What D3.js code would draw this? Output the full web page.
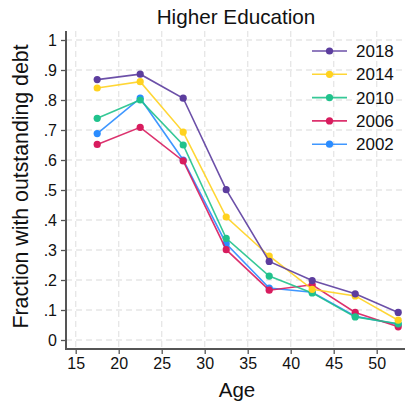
<!DOCTYPE html>
<html>
<head>
<meta charset="utf-8">
<script src="https://cdn.jsdelivr.net/npm/d3@7"></script>
<style>
  html, body { margin: 0; padding: 0; background: #fff; }
  svg { display: block; font-family: "Liberation Sans", Arial, Helvetica, sans-serif; }
</style>
</head>
<body>
<svg id="chart" width="405" height="403"></svg>
<script>
// Age-group midpoints
const ages = [17.5, 22.5, 27.5, 32.5, 37.5, 42.5, 47.5, 52.5];

// Share of households with outstanding higher-education debt, by survey year
const y2018 = [0.868, 0.886, 0.806, 0.501, 0.262, 0.198, 0.154, 0.092];
const y2014 = [0.840, 0.861, 0.693, 0.410, 0.280, 0.169, 0.147, 0.066];
const y2010 = [0.739, 0.800, 0.650, 0.339, 0.213, 0.157, 0.077, 0.054];
const y2006 = [0.652, 0.709, 0.597, 0.301, 0.166, 0.184, 0.092, 0.044];
const y2002 = [0.688, 0.806, 0.600, 0.321, 0.173, 0.159, 0.079, 0.052];

const seriesNames = ["2018", "2014", "2010", "2006", "2002"];
const seriesColors = ["#5c3d9e", "#ffd21f", "#20c28c", "#d81c5e", "#2a8cff"];
const seriesValues = [y2018, y2014, y2010, y2006, y2002];

const xTicks = [15, 20, 25, 30, 35, 40, 45, 50];
const yTicks = [0, 0.1, 0.2, 0.3, 0.4, 0.5, 0.6, 0.7, 0.8, 0.9, 1];
const yTickLabels = ["0", ".1", ".2", ".3", ".4", ".5", ".6", ".7", ".8", ".9", "1"];

const svg = d3.select("#chart");

// Plot frame
const frame = { left: 66, right: 405, top: 31, bottom: 349 };

const x = d3.scaleLinear().domain([15, 50]).range([75.7, 376.7]);
const y = d3.scaleLinear().domain([0, 1]).range([340, 40]);

// Dashed grid
const grid = svg.append("g").attr("stroke", "#e6e6e6").attr("stroke-width", 1.3)
  .attr("stroke-dasharray", "6,4");
grid.selectAll("line.h").data(yTicks).join("line")
  .attr("x1", frame.left).attr("x2", frame.right)
  .attr("y1", d => y(d)).attr("y2", d => y(d));
grid.selectAll("line.v").data(xTicks).join("line")
  .attr("x1", d => x(d)).attr("x2", d => x(d))
  .attr("y1", frame.top).attr("y2", frame.bottom);

// Axes
const axisColor = "#555";
const yAxis = d3.axisLeft(y).tickValues(yTicks)
  .tickFormat((d, i) => yTickLabels[i]).tickSize(5).tickPadding(4);
const gy = svg.append("g").attr("transform", `translate(${frame.left},0)`).call(yAxis);
const xAxis = d3.axisBottom(x).tickValues(xTicks).tickSize(5).tickPadding(4);
const gx = svg.append("g").attr("transform", `translate(0,${frame.bottom})`).call(xAxis);

[gy, gx].forEach(g => {
  g.select(".domain").remove();
  g.selectAll(".tick line").attr("stroke", axisColor).attr("stroke-width", 1.3);
  g.selectAll(".tick text").attr("fill", "#111").style("font-size", "16px")
    .style("font-family", "Liberation Sans, Arial, sans-serif");
});

svg.append("line").attr("x1", frame.left).attr("x2", frame.left)
  .attr("y1", frame.top).attr("y2", frame.bottom + 1)
  .attr("stroke", axisColor).attr("stroke-width", 2);
svg.append("line").attr("x1", frame.left - 1).attr("x2", frame.right)
  .attr("y1", frame.bottom).attr("y2", frame.bottom)
  .attr("stroke", axisColor).attr("stroke-width", 2);

// Series (oldest drawn first so recent years sit on top)
const line = d3.line().x((d, i) => x(ages[i])).y(d => y(d));
const order = d3.range(seriesNames.length).reverse();
order.forEach(k => {
  const g = svg.append("g");
  g.append("path").datum(seriesValues[k])
    .attr("fill", "none").attr("stroke", seriesColors[k])
    .attr("stroke-width", 1.6).attr("stroke-opacity", 0.9)
    .attr("d", line);
  g.selectAll("circle").data(seriesValues[k]).join("circle")
    .attr("cx", (d, i) => x(ages[i])).attr("cy", d => y(d))
    .attr("r", 3.6).attr("fill", seriesColors[k]);
});

// Legend
const legend = svg.append("g").attr("transform", "translate(312,51)");
seriesNames.forEach((name, i) => {
  const row = legend.append("g").attr("transform", `translate(0,${i * 23.3})`);
  row.append("line").attr("x1", 0).attr("x2", 35).attr("y1", 0).attr("y2", 0)
    .attr("stroke", seriesColors[i]).attr("stroke-width", 1.6).attr("stroke-opacity", 0.9);
  row.append("circle").attr("cx", 17.5).attr("cy", 0).attr("r", 3.6).attr("fill", seriesColors[i]);
  row.append("text").attr("x", 44).attr("y", 6).attr("fill", "#111")
    .style("font-size", "17px").text(name);
});

// Titles
svg.append("text").attr("x", 236).attr("y", 24).attr("text-anchor", "middle")
  .attr("fill", "#111").style("font-size", "20.7px").text("Higher Education");
svg.append("text").attr("x", 237).attr("y", 397).attr("text-anchor", "middle")
  .attr("fill", "#111").style("font-size", "20.5px").text("Age");
svg.append("text").attr("transform", "translate(28,186.5) rotate(-90)")
  .attr("text-anchor", "middle").attr("fill", "#111").style("font-size", "21.3px")
  .text("Fraction with outstanding debt");
</script>
</body>
</html>
